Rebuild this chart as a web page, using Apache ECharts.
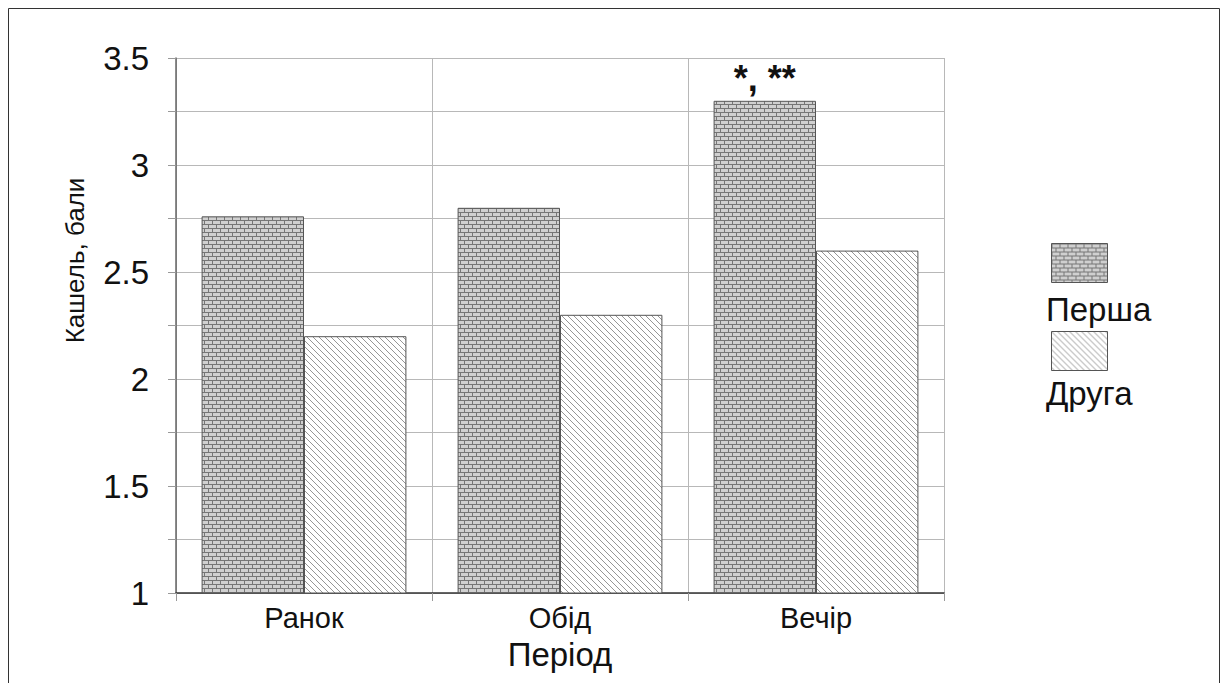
<!DOCTYPE html>
<html>
<head>
<meta charset="utf-8">
<script src="https://cdn.jsdelivr.net/npm/echarts@6/dist/echarts.min.js"></script>
<style>
html,body{margin:0;padding:0;background:#fff;}
#chart{width:1221px;height:683px;}
</style>
</head>
<body>
<div id="chart"></div>
<script>
// ---- data ----
var categories = ['Ранок', 'Обід', 'Вечір'];
var seriesNames = ['Перша', 'Друга'];
var valuesFirst = [2.76, 2.80, 3.30];
var valuesSecond = [2.20, 2.30, 2.60];
var firstAnnotations = ['', '', '*, **'];
var yMin = 1, yMax = 3.5, yStep = 0.25;
var yLabelValues = [1, 1.5, 2, 2.5, 3, 3.5];
var yAxisTitle = 'Кашель, бали';
var xAxisTitle = 'Період';

// ---- patterns ----
function brickPattern() {
  var c = document.createElement('canvas');
  c.width = 8; c.height = 8;
  var g = c.getContext('2d');
  g.fillStyle = '#d0d0d0'; g.fillRect(0, 0, 8, 8);
  g.fillStyle = '#767676';
  g.fillRect(0, 0, 8, 1);
  g.fillRect(0, 4, 8, 1);
  g.fillRect(0, 0, 1, 4);
  g.fillRect(4, 4, 1, 4);
  return c;
}
function hatchPattern() {
  var s = 6;
  var c = document.createElement('canvas');
  c.width = s; c.height = s;
  var g = c.getContext('2d');
  g.fillStyle = '#ffffff'; g.fillRect(0, 0, s, s);
  g.strokeStyle = '#969696'; g.lineWidth = 1;
  g.beginPath();
  g.moveTo(-1, -1); g.lineTo(s + 1, s + 1);
  g.moveTo(-1 - s, -1); g.lineTo(1, s + 1);
  g.moveTo(s - 1, -1); g.lineTo(2 * s + 1, s + 1);
  g.stroke();
  return c;
}
var fillFirst = { image: brickPattern(), repeat: 'repeat' };
var fillSecond = { image: hatchPattern(), repeat: 'repeat' };

var FONT = 'Liberation Sans, Arial, sans-serif';
var chart = echarts.init(document.getElementById('chart'), null, { renderer: 'svg' });

var firstData = valuesFirst.map(function (v, i) {
  var item = { value: v };
  if (firstAnnotations[i]) {
    item.label = { show: true, formatter: firstAnnotations[i] };
  }
  return item;
});

chart.setOption({
  animation: false,
  backgroundColor: '#ffffff',
  textStyle: { fontFamily: FONT },
  graphic: [{
    type: 'rect', silent: true,
    shape: { x: 8.5, y: 8.5, width: 1211, height: 700 },
    style: { fill: 'none', stroke: '#333', lineWidth: 1 }
  }],
  grid: { left: 176, right: 277, top: 58, bottom: 90, containLabel: false },
  legend: [{
    orient: 'vertical', left: 1046, top: 238,
    icon: 'rect',
    itemWidth: 56, itemHeight: 39, itemGap: 48,
    selectedMode: false,
    data: seriesNames,
    formatter: function () { return ''; },
    itemStyle: { borderColor: '#555', borderWidth: 1 }
  }, {
    orient: 'vertical', left: 1036, top: 285,
    itemWidth: 0, itemHeight: 39, itemGap: 48,
    icon: 'none', selectedMode: false,
    data: seriesNames,
    textStyle: { fontSize: 33, color: '#111', fontFamily: FONT }
  }],
  xAxis: {
    type: 'category',
    data: categories,
    name: xAxisTitle,
    nameLocation: 'middle',
    nameGap: 45,
    nameTextStyle: { fontSize: 33, color: '#111', fontFamily: FONT },
    axisLine: { lineStyle: { color: '#333', width: 1.5 } },
    axisTick: { show: true, length: 8, lineStyle: { color: '#999' } },
    axisLabel: { fontSize: 29, color: '#111', margin: 10, fontFamily: FONT },
    splitLine: { show: true, lineStyle: { color: '#b8b8b8', width: 1 } }
  },
  yAxis: {
    type: 'value',
    min: yMin, max: yMax, interval: yStep,
    name: yAxisTitle,
    nameLocation: 'middle',
    nameRotate: 90,
    nameGap: 88,
    nameTextStyle: { fontSize: 26, color: '#111', fontFamily: FONT, padding: [0, 0, 0, 130] },
    axisLine: { show: true, lineStyle: { color: '#666', width: 1.5 } },
    axisTick: { show: true, length: 8, lineStyle: { color: '#999' } },
    axisLabel: {
      fontSize: 33, color: '#111', margin: 27, fontFamily: FONT,
      formatter: function (v) {
        for (var i = 0; i < yLabelValues.length; i++) {
          if (Math.abs(yLabelValues[i] - v) < 1e-9) return String(yLabelValues[i]);
        }
        return '';
      }
    },
    splitLine: { show: true, lineStyle: { color: '#b8b8b8', width: 1 } }
  },
  series: [{
    name: seriesNames[0],
    type: 'bar',
    data: firstData,
    barGap: '0%',
    barCategoryGap: '20%',
    itemStyle: { color: fillFirst, borderColor: '#555', borderWidth: 1 },
    label: { show: false, position: 'top', distance: 4, fontSize: 36, fontWeight: 'bold', color: '#111', fontFamily: FONT }
  }, {
    name: seriesNames[1],
    type: 'bar',
    data: valuesSecond,
    barGap: '0%',
    barCategoryGap: '20%',
    itemStyle: { color: fillSecond, borderColor: '#555', borderWidth: 1 }
  }]
});
</script>
</body>
</html>
